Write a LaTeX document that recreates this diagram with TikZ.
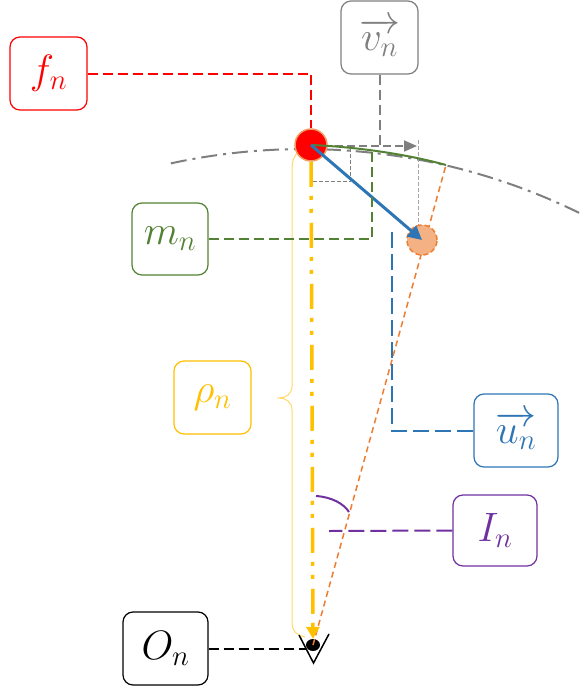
\RequirePackage{fix-cm}
\documentclass[tikz,border=0pt]{standalone}
\usetikzlibrary{arrows.meta,shapes.geometric}
\definecolor{cRed}{RGB}{255,0,0}
\definecolor{cGray}{RGB}{127,127,127}
\definecolor{cGreen}{RGB}{84,130,53}
\definecolor{cYellow}{RGB}{255,192,0}
\definecolor{cLYellow}{RGB}{255,217,102}
\definecolor{cBlue}{RGB}{46,117,182}
\definecolor{cPurple}{RGB}{112,48,160}
\definecolor{cOrange}{RGB}{237,125,49}
\definecolor{cSalmon}{RGB}{244,177,131}
\begin{document}
\begin{tikzpicture}[x=1pt,y=1pt,
  box/.style={draw, fill=white, rounded corners=10pt, line width=1.2pt, minimum width=77pt, minimum height=73pt, inner sep=0pt, font=\fontsize{41}{44}\selectfont},
  conn/.style={line width=2pt, dash pattern=on 10pt off 5pt},
  longconn/.style={line width=2pt, dash pattern=on 16pt off 6pt},
]
\useasboundingbox (0,0) rectangle (584,-689);
% reference arc
\draw[cGray, line width=2pt, dash pattern=on 16pt off 6pt on 3pt off 6pt]
  ([shift={(102.3:625)}]304,-774) arc[start angle=102.3, end angle=63.8, radius=625];
% named points
\coordinate (A) at (446,-165);
\coordinate (V) at (417,-146);
\coordinate (M) at (372,-152);
\coordinate (U) at (392,-227);
\coordinate (I) at (329,-531);
% eye
\node[ellipse, fill=black, minimum width=14pt, minimum height=12pt, inner sep=0pt] (E) at (313,-645) {};
% brace
\draw[cLYellow, line width=1pt]
  (300,-151) .. controls (293,-155) and (292,-162) .. (292,-172) -- (292,-386)
  .. controls (292,-394) and (286,-398) .. (279,-398)
  .. controls (286,-398) and (292,-402) .. (292,-410) -- (292,-622)
  .. controls (292,-632) and (298,-636) .. (305,-637);
% orange dashed radial line
\draw[cOrange, line width=1.5pt, dash pattern=on 6pt off 4pt] (E.center) -- (A);
% thin gray vertical
\draw[cGray!70, line width=0.8pt, dash pattern=on 4pt off 2pt] (418,-140) -- (418,-240);
% faded circle
\node[circle, fill=cSalmon, draw=cOrange, dash pattern=on 5pt off 3pt, line width=1.5pt, minimum size=30pt, inner sep=0pt] (Q) at (422,-240) {};
% velocity vector
\draw[cGray, line width=1.8pt, dash pattern=on 8pt off 4pt, -{Triangle[length=13pt,width=11pt]}] (311,-146) -- (V);
% small rectangle
\draw[cGray, line width=1pt, dash pattern=on 4pt off 2pt] (313,-181) -- (350,-181) -- (350,-146);
% red circle
\node[circle, fill=cRed, draw=cSalmon!60!cOrange, line width=1.5pt, minimum size=32pt, inner sep=0pt] (P) at (311,-145) {};
% yellow radius
\draw[cYellow, line width=3.5pt, dash pattern=on 25pt off 9pt on 4pt off 9pt on 4pt off 10pt, -{Triangle[length=12pt,width=13pt]}] (P.south) -- (E.north);
% green arc
\draw[cGreen, line width=2pt] (P.center) .. controls (360,-147) and (410,-155) .. (A);
% blue arrow
\draw[cBlue, line width=3pt, -{Triangle[length=14pt,width=14pt]}] (P.center) -- (Q.center);
% boxes
\node[box, draw=cRed, text=cRed] (fn) at (48.5,-73.5) {$f_n$};
\node[box, draw=cGray, text=cGray] (vn) at (379.5,-37.5) {$\overrightarrow{v_n}$};
\node[box, draw=cGreen, text=cGreen, minimum width=76pt, minimum height=72pt] (mn) at (170,-239) {$m_n$};
\node[box, draw=cYellow, text=cYellow] (rho) at (212.5,-397.5) {$\rho_n$};
\node[box, draw=cBlue, text=cBlue, minimum width=84pt] (un) at (516,-430.5) {$\overrightarrow{u_n}$};
\node[box, draw=cPurple, text=cPurple, minimum width=84pt, minimum height=71pt] (In) at (495,-530.5) {$I_n$};
\node[box, draw=black, text=black, minimum width=85pt] (On) at (165.5,-648.5) {$O_n$};
% connectors
\draw[conn, cRed] (fn.east) -| (P.north);
\draw[conn, cGray] (vn.south) -- (vn.south |- V);
\draw[conn, cGreen] (mn.east) -| (M);
\draw[longconn, cBlue] (un.west) -| (U);
\draw[longconn, cPurple] (In.west) -- (I);
\draw[conn, black] (On.east) -- (On.east -| E.west);
% angle
\draw[cPurple, line width=2pt] (316,-496) .. controls (332,-497) and (344,-504) .. (349,-512);
% eye lines
\draw[black, line width=1.5pt] (299,-635) -- (313.5,-663) -- (329,-634);
\end{tikzpicture}
\end{document}
